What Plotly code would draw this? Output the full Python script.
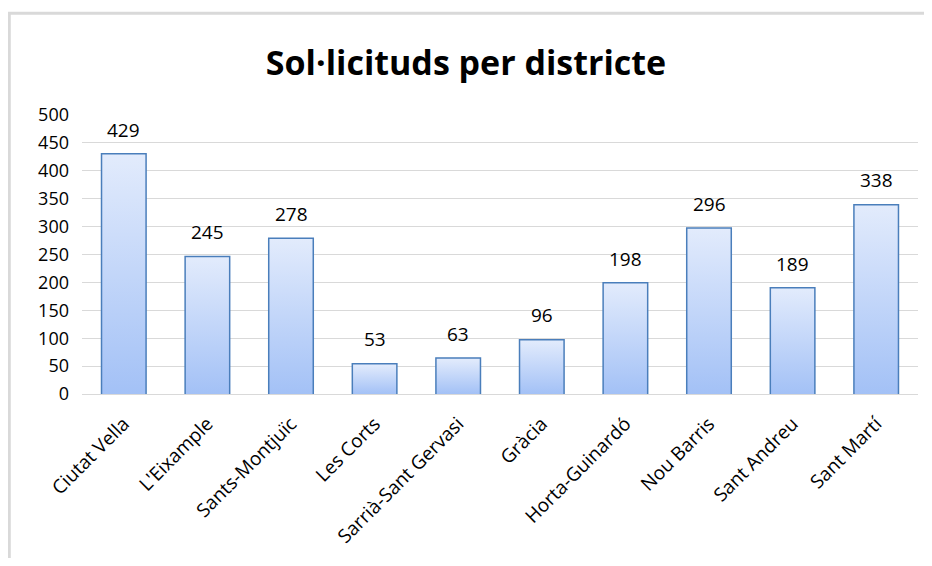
import plotly.graph_objects as go

# Dades: sol·licituds per districte
districtes = ["Ciutat Vella", "L'Eixample", "Sants-Montjuïc", "Les Corts", "Sarrià-Sant Gervasi",
              "Gràcia", "Horta-Guinardó", "Nou Barris", "Sant Andreu", "Sant Martí"]
sollicituds = [429, 245, 278, 53, 63, 96, 198, 296, 189, 338]
eix_y = [0, 50, 100, 150, 200, 250, 300, 350, 400, 450, 500]

font = "'Open Sans', Lato, sans-serif"
amplada = 0.515
pos = list(range(len(districtes)))

fig = go.Figure()

# Degradat de cada barra (com a Excel): una forma per barra
for i, v in zip(pos, sollicituds):
    fig.add_trace(go.Scatter(
        x=[i - amplada / 2, i + amplada / 2, i + amplada / 2, i - amplada / 2],
        y=[0, 0, v, v],
        fill="toself", mode="none",
        fillgradient=dict(type="vertical", start=0, stop=v,
                          colorscale=[[0, "#a3c1f6"], [1, "#e2ebfc"]]),
        hoverinfo="skip", showlegend=False))

# Contorn de les barres
fig.add_trace(go.Bar(
    x=pos, y=sollicituds, width=amplada,
    marker=dict(color="rgba(0,0,0,0)", line=dict(color="#4a7ebb", width=3)),
    hovertext=districtes, showlegend=False))

# Etiquetes de dades per sobre de cada barra
for i, v in zip(pos, sollicituds):
    fig.add_annotation(x=i, y=v, text=str(v), showarrow=False, yanchor="bottom",
                       yshift=10, font=dict(size=19, color="#000000", family=font))

# la pàgina té 8px de marge al body -> figura una mica més petita
fig.update_layout(
    width=916, height=550,
    margin=dict(l=74, r=6, t=107, b=164),
    paper_bgcolor="white", plot_bgcolor="white",
    font=dict(family=font, color="#000000"),
    title=dict(text="<b>Sol·licituds per districte</b>", x=0.5, xanchor="center",
               y=0.9, yanchor="middle", font=dict(size=34, family=font)),
    xaxis=dict(range=[-0.5, 9.5], tickmode="array", tickvals=pos, ticktext=districtes,
               tickangle=-45, tickfont=dict(size=19), showgrid=False, zeroline=False,
               showline=False, ticks="", automargin=False, ticklabelstandoff=14),
    yaxis=dict(range=[0, 500], tickmode="array", tickvals=eix_y, tickfont=dict(size=18),
               showgrid=True, gridcolor="#d9d9d9", gridwidth=1, zeroline=True,
               zerolinecolor="#d9d9d9", zerolinewidth=1, showline=False, ticks="",
               ticklabelstandoff=12, automargin=False),
    shapes=[dict(type="rect", xref="paper", yref="paper", x0=-0.087, x1=1.2, y0=-0.9, y1=1.365,
                 line=dict(color="#d9d9d9", width=3), fillcolor="rgba(0,0,0,0)", layer="below")],
)

fig.write_html("out.html")
